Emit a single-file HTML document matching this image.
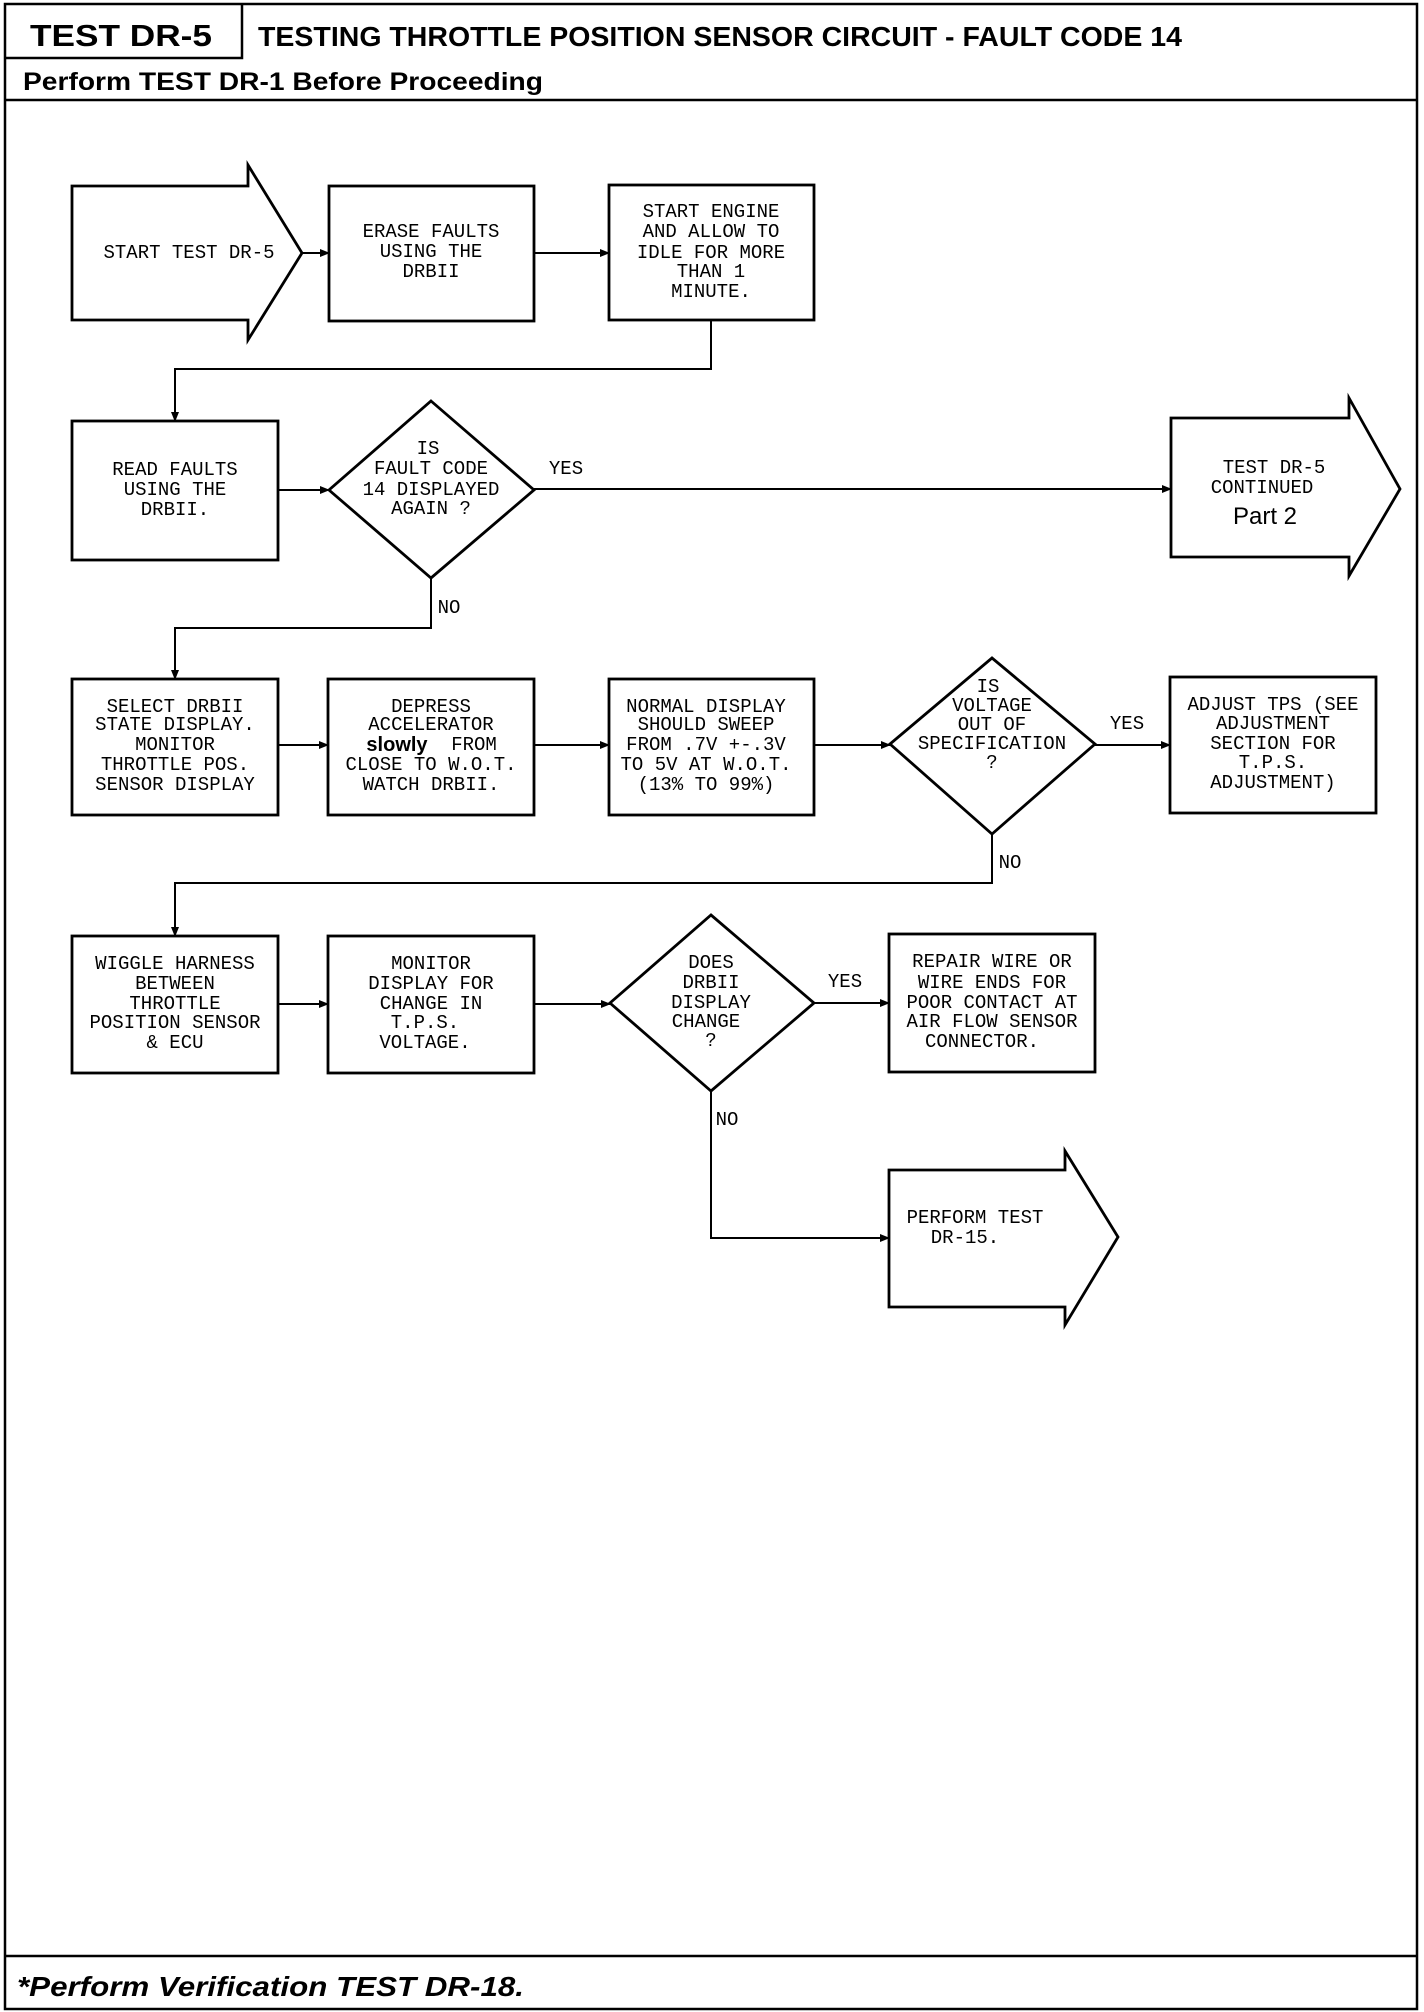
<!DOCTYPE html>
<html><head><meta charset="utf-8"><style>
html,body{margin:0;padding:0;background:#fff;}
svg{display:block;}
.t{font-family:"Liberation Mono",monospace;font-size:19px;fill:#000;text-anchor:middle;dominant-baseline:central;}
.s{font-family:"Liberation Sans",sans-serif;fill:#000;}
</style></head><body>
<svg width="1424" height="2012" viewBox="0 0 1424 2012" xmlns="http://www.w3.org/2000/svg">
<defs><marker id="a" markerWidth="10" markerHeight="8" refX="9" refY="4" orient="auto" markerUnits="userSpaceOnUse"><path d="M0,0 L10,4 L0,8 z" fill="#000"/></marker></defs>
<g fill="none" stroke="#000" stroke-width="2.5">
<rect x="5" y="4" width="1412" height="2005"/>
<line x1="5" y1="100" x2="1417" y2="100"/>
<polyline points="5,58 242,58 242,4"/>
<line x1="5" y1="1956" x2="1417" y2="1956"/>
</g>
<text class="s" x="30" y="46" font-size="31" font-weight="bold" textLength="182" lengthAdjust="spacingAndGlyphs">TEST DR-5</text>
<text class="s" x="258" y="46" font-size="28" font-weight="bold" textLength="924" lengthAdjust="spacingAndGlyphs">TESTING THROTTLE POSITION SENSOR CIRCUIT - FAULT CODE 14</text>
<text class="s" x="23" y="90" font-size="25" font-weight="bold" textLength="520" lengthAdjust="spacingAndGlyphs">Perform TEST DR-1 Before Proceeding</text>
<text class="s" x="17" y="1996" font-size="28" font-weight="bold" font-style="italic" textLength="507" lengthAdjust="spacingAndGlyphs">*Perform Verification TEST DR-18.</text>

<g fill="none" stroke="#000" stroke-width="2.8">
<polygon points="72,186 248,186 248,165 302,253 248,340 248,320 72,320"/>
<rect x="329" y="186" width="205" height="135"/>
<rect x="609" y="185" width="205" height="135"/>
<rect x="72" y="421" width="206" height="139"/>
<polygon points="431,401 534,490 431,578 329,490"/>
<polygon points="1171,418 1349,418 1349,398 1400,489 1349,576 1349,557 1171,557"/>
<rect x="72" y="679" width="206" height="136"/>
<rect x="328" y="679" width="206" height="136"/>
<rect x="609" y="679" width="205" height="136"/>
<polygon points="992,658 1095,744 992,834 890,744"/>
<rect x="1170" y="677" width="206" height="136"/>
<rect x="72" y="936" width="206" height="137"/>
<rect x="328" y="936" width="206" height="137"/>
<polygon points="711,915 814,1003 711,1091 610,1003"/>
<rect x="889" y="934" width="206" height="138"/>
<polygon points="889,1170 1065,1170 1065,1151 1118,1237 1065,1325 1065,1307 889,1307"/>
</g>
<g fill="none" stroke="#000" stroke-width="2" marker-end="url(#a)">
<line x1="302" y1="253" x2="329" y2="253"/>
<line x1="534" y1="253" x2="609" y2="253"/>
<polyline points="711,320 711,369 175,369 175,421"/>
<line x1="278" y1="490" x2="329" y2="490"/>
<line x1="534" y1="489" x2="1171" y2="489"/>
<polyline points="431,578 431,628 175,628 175,679"/>
<line x1="278" y1="745" x2="328" y2="745"/>
<line x1="534" y1="745" x2="609" y2="745"/>
<line x1="814" y1="745" x2="890" y2="745"/>
<line x1="1095" y1="745" x2="1170" y2="745"/>
<polyline points="992,834 992,883 175,883 175,936"/>
<line x1="278" y1="1004" x2="328" y2="1004"/>
<line x1="534" y1="1004" x2="610" y2="1004"/>
<line x1="814" y1="1003" x2="889" y2="1003"/>
<polyline points="711,1091 711,1238 889,1238"/>
</g>

<text class="t" x="189" y="253">START TEST DR-5</text>
<text class="t" x="431" y="232">ERASE FAULTS</text>
<text class="t" x="431" y="252">USING THE</text>
<text class="t" x="431" y="272">DRBII</text>
<text class="t" x="711" y="212">START ENGINE</text>
<text class="t" x="711" y="232">AND ALLOW TO</text>
<text class="t" x="711" y="253">IDLE FOR MORE</text>
<text class="t" x="711" y="272">THAN 1</text>
<text class="t" x="711" y="292">MINUTE.</text>
<text class="t" x="175" y="470">READ FAULTS</text>
<text class="t" x="175" y="490">USING THE</text>
<text class="t" x="175" y="510">DRBII.</text>
<text class="t" x="428" y="449">IS</text>
<text class="t" x="431" y="469">FAULT CODE</text>
<text class="t" x="431" y="490">14 DISPLAYED</text>
<text class="t" x="431" y="509">AGAIN ?</text>
<text class="t" x="566" y="469">YES</text>
<text class="t" x="1274" y="468">TEST DR-5</text>
<text class="t" x="1262" y="488">CONTINUED</text>
<text class="s" x="1265" y="524" font-size="24" text-anchor="middle">Part 2</text>
<text class="t" x="449" y="608">NO</text>

<text class="t" x="175" y="707">SELECT DRBII</text>
<text class="t" x="175" y="725">STATE DISPLAY.</text>
<text class="t" x="175" y="745">MONITOR</text>
<text class="t" x="175" y="765">THROTTLE POS.</text>
<text class="t" x="175" y="785">SENSOR DISPLAY</text>
<text class="t" x="431" y="707">DEPRESS</text>
<text class="t" x="431" y="725">ACCELERATOR</text>
<text class="s" x="397" y="751" font-size="20" font-weight="bold" text-anchor="middle">slowly</text>
<text class="t" x="474" y="745">FROM</text>
<text class="t" x="431" y="765">CLOSE TO W.O.T.</text>
<text class="t" x="431" y="785">WATCH DRBII.</text>
<text class="t" x="706" y="707">NORMAL DISPLAY</text>
<text class="t" x="706" y="725">SHOULD SWEEP</text>
<text class="t" x="706" y="745">FROM .7V +-.3V</text>
<text class="t" x="706" y="765">TO 5V AT W.O.T.</text>
<text class="t" x="706" y="785">(13% TO 99%)</text>
<text class="t" x="988" y="687">IS</text>
<text class="t" x="992" y="706">VOLTAGE</text>
<text class="t" x="992" y="725">OUT OF</text>
<text class="t" x="992" y="744">SPECIFICATION</text>
<text class="t" x="992" y="763">?</text>
<text class="t" x="1127" y="724">YES</text>
<text class="t" x="1273" y="705">ADJUST TPS (SEE</text>
<text class="t" x="1273" y="724">ADJUSTMENT</text>
<text class="t" x="1273" y="744">SECTION FOR</text>
<text class="t" x="1273" y="763">T.P.S.</text>
<text class="t" x="1273" y="783">ADJUSTMENT)</text>
<text class="t" x="1010" y="863">NO</text>

<text class="t" x="175" y="964">WIGGLE HARNESS</text>
<text class="t" x="175" y="984">BETWEEN</text>
<text class="t" x="175" y="1004">THROTTLE</text>
<text class="t" x="175" y="1023">POSITION SENSOR</text>
<text class="t" x="175" y="1043">&amp; ECU</text>
<text class="t" x="431" y="964">MONITOR</text>
<text class="t" x="431" y="984">DISPLAY FOR</text>
<text class="t" x="431" y="1004">CHANGE IN</text>
<text class="t" x="425" y="1023">T.P.S.</text>
<text class="t" x="425" y="1043">VOLTAGE.</text>
<text class="t" x="711" y="963">DOES</text>
<text class="t" x="711" y="983">DRBII</text>
<text class="t" x="711" y="1003">DISPLAY</text>
<text class="t" x="706" y="1022">CHANGE</text>
<text class="t" x="711" y="1041">?</text>
<text class="t" x="845" y="982">YES</text>
<text class="t" x="992" y="962">REPAIR WIRE OR</text>
<text class="t" x="992" y="983">WIRE ENDS FOR</text>
<text class="t" x="992" y="1003">POOR CONTACT AT</text>
<text class="t" x="992" y="1022">AIR FLOW SENSOR</text>
<text class="t" x="982" y="1042">CONNECTOR.</text>
<text class="t" x="727" y="1120">NO</text>
<text class="t" x="975" y="1218">PERFORM TEST</text>
<text class="t" x="965" y="1238">DR-15.</text>
</svg>
</body></html>
